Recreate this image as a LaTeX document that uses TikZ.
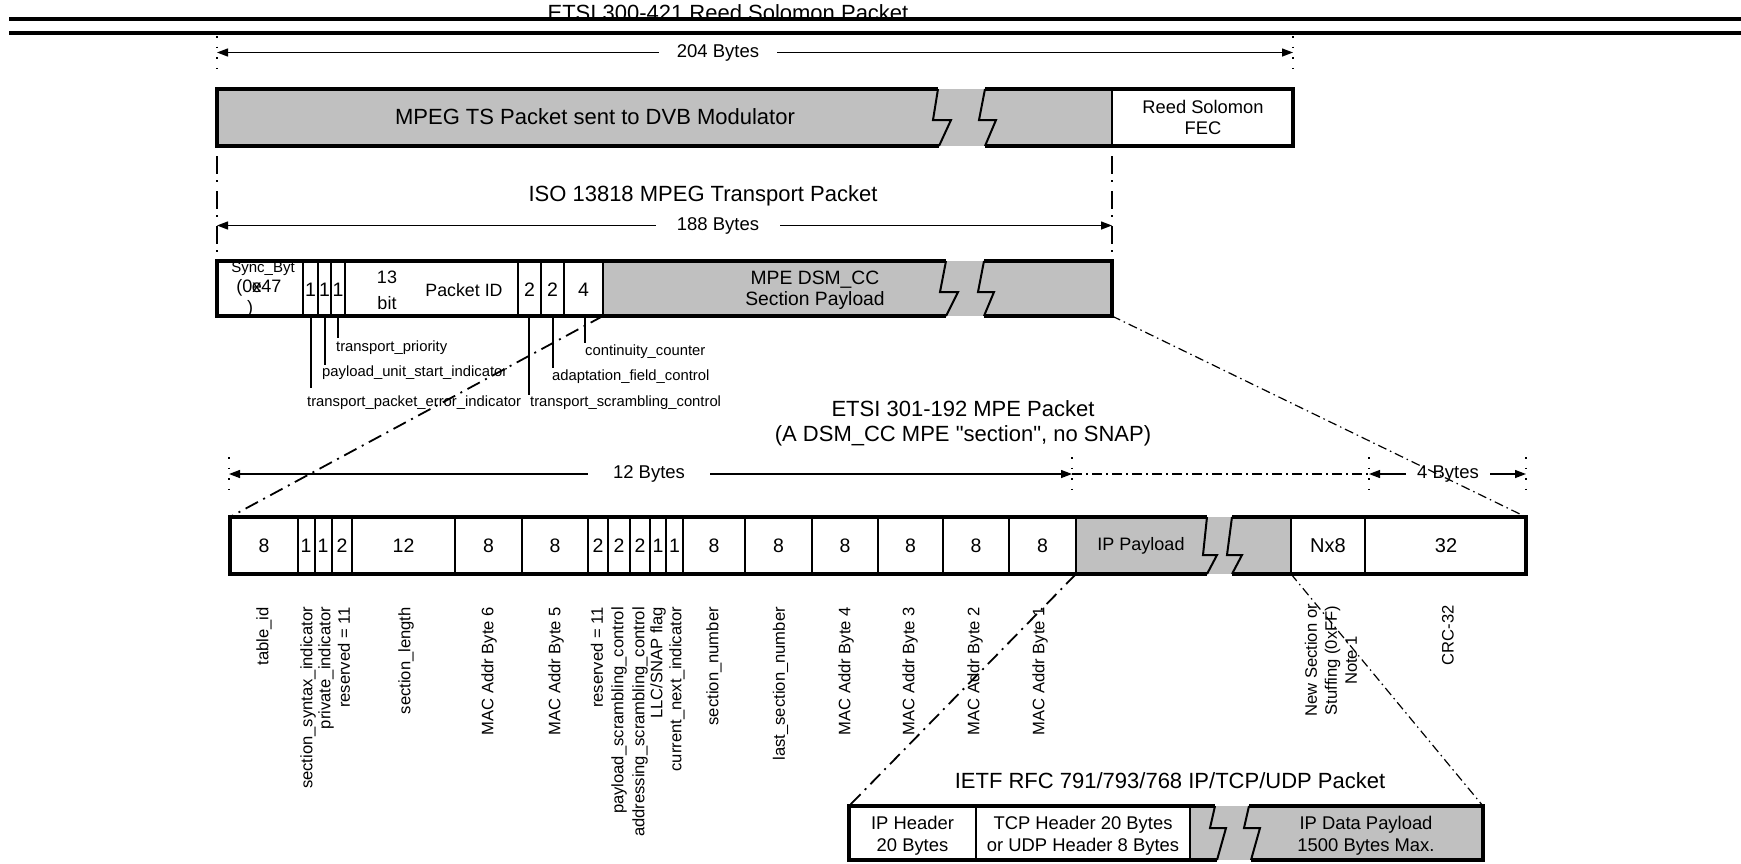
\documentclass[tikz,border=0pt]{standalone}
\usepackage{fontspec}
\setmainfont{Liberation Sans}[Ligatures=TeXOff]
\usetikzlibrary{arrows.meta}
\definecolor{pgray}{HTML}{C0C0C0}
\begin{document}
\begin{tikzpicture}[x=1pt,y=-1pt,
  ttl/.style={font=\fontsize{22}{26}\selectfont, inner sep=0pt},
  dimlbl/.style={font=\fontsize{18.5}{22}\selectfont, fill=white, inner ysep=2pt, inner xsep=#1},
  dimlbl/.default=18pt,
  cellt/.style={font=\fontsize{19.5}{22}\selectfont, inner sep=0pt},
  boxt/.style={font=\fontsize{18.4}{21.7}\selectfont, inner sep=0pt, align=center},
  lead/.style={font=\fontsize{14.8}{17}\selectfont, anchor=west, inner sep=0pt},
  vl/.style={font=\fontsize{16.6}{19}\selectfont, rotate=90, anchor=east, inner sep=0pt},
  thickb/.style={line width=3.2pt},
  thinl/.style={line width=1.3pt},
  zig/.style={line width=2pt},
  dimarr/.style={line width=1.3pt, {Triangle[length=11pt,width=8pt]}-{Triangle[length=11pt,width=8pt]}},
  tick/.style={line width=1.6pt, dash pattern=on 1.6pt off 9pt},
  ddv/.style={line width=2pt, dash pattern=on 18pt off 6pt on 2pt off 9pt},
  ddh/.style={line width=1.3pt, dash pattern=on 10pt off 4pt on 2pt off 4pt},
  ddA/.style={line width=1.8pt, dash pattern=on 14pt off 6pt on 2pt off 6pt},
  ddB/.style={line width=1.2pt, dash pattern=on 9pt off 4pt on 1.5pt off 4pt}
]
\path[use as bounding box, fill=white] (0,0) rectangle (1741,863);

% ---------- top title and double rule
\node[ttl, anchor=base] (t300) at (728,20) {ETSI 300-421 Reed Solomon Packet};
\draw[line width=4.5pt] (9,19) -- (1741,19);
\draw[line width=4.5pt] (9,33) -- (1741,33);

% ---------- 204 Bytes
\draw[tick] (217,36) -- (217,76);
\draw[tick] (1293,36) -- (1293,76);
\coordinate (a204l) at (217,52.5);
\coordinate (a204r) at (1293,52.5);
\draw[dimarr] (a204l) -- (a204r);
\node[dimlbl=18pt] (d204) at (718,52.5) {204 Bytes};

% ---------- Reed Solomon packet box
\fill[pgray] (217,89) rectangle (1112,146);
\draw[thinl] (1112,89) -- (1112,146);
\draw[thickb] (938,89) -- (217,89) -- (217,146) -- (939,146);
\draw[thickb] (985,89) -- (1293,89) -- (1293,146) -- (985,146);
\draw[zig] (938,89) -- (933,120) -- (951,120) -- (939,146);
\draw[zig] (985,89) -- (979,120) -- (996,120) -- (985,146);
\node[ttl] (mpegts) at (595,117) {MPEG TS Packet sent to DVB Modulator};
\node[font=\fontsize{18.3}{21}\selectfont, inner sep=0pt, align=center] (rsfec) at (1203,117.5) {Reed Solomon\\FEC};

% ---------- dash-dot verticals
\draw[ddv] (217,156) -- (217,261);
\draw[ddv] (1112,156) -- (1112,261);

% ---------- ISO title and 188 Bytes
\node[ttl] (iso) at (703,196) {ISO 13818 MPEG Transport Packet};
\coordinate (a188l) at (217,225.5);
\coordinate (a188r) at (1112,225.5);
\draw[dimarr] (a188l) -- (a188r);
\node[dimlbl=21pt] (d188) at (718,225.5) {188 Bytes};

% ---------- TS packet box
\fill[pgray] (603,261) rectangle (1112,316);
\foreach \x in {303,318,331,345,518,541,564,603}
  \draw[thinl] (\x,261) -- (\x,316);
\node[font=\fontsize{15}{17}\selectfont, anchor=base, inner sep=0pt] (sync1) at (263,272) {Sync\_Byt};
\node[font=\fontsize{18}{20}\selectfont, anchor=base, inner sep=0pt] (sync2) at (259,292) {(0x47};
\node[font=\fontsize{18}{20}\selectfont, anchor=base, inner sep=0pt] (sync3) at (257,292) {e};
\node[font=\fontsize{18}{20}\selectfont, anchor=base, inner sep=0pt] (sync4) at (250,313) {)};
\draw[thickb] (946,261) -- (217,261) -- (217,316) -- (946,316);
\draw[thickb] (984,261) -- (1112,261) -- (1112,316) -- (984,316);
\draw[zig] (946,261) -- (940,292) -- (958,292) -- (946,316);
\draw[zig] (984,261) -- (978,292) -- (994,292) -- (984,316);
\node[cellt] (ts1a) at (310.5,290) {1};
\node[cellt] (ts1b) at (324.5,290) {1};
\node[cellt] (ts1c) at (338,290) {1};
\node[font=\fontsize{18}{26}\selectfont, inner sep=0pt, align=center] (ts13) at (387,290) {13\\bit};
\node[font=\fontsize{17.8}{21}\selectfont, inner sep=0pt] (tspid) at (464,290) {Packet ID};
\node[cellt] (ts2a) at (529.5,290) {2};
\node[cellt] (ts2b) at (552.5,290) {2};
\node[cellt] (ts4) at (583.5,290) {4};
\node[font=\fontsize{19.3}{21}\selectfont, inner sep=0pt, align=center] (tspay) at (815,290.5) {MPE DSM\_CC\\Section Payload};

% ---------- leader lines
\draw[thinl] (311,316) -- (311,388);
\draw[thinl] (325,316) -- (325,365);
\draw[thinl] (338,316) -- (338,338);
\draw[thinl] (529,316) -- (529,395);
\draw[thinl] (553,316) -- (553,368);
\draw[thinl] (585,316) -- (585,343);
\node[lead] (ltp) at (336,348) {transport\_priority};
\node[lead] (lpusi) at (322,373) {payload\_unit\_start\_indicator};
\node[lead] (ltpei) at (307,403) {transport\_packet\_error\_indicator};
\node[lead] (lcc) at (585,352) {continuity\_counter};
\node[lead] (lafc) at (552,377) {adaptation\_field\_control};
\node[lead] (ltsc) at (530,403) {transport\_scrambling\_control};

% ---------- ETSI 301-192 title
\node[ttl] (mpet1) at (963,408.6) {ETSI 301-192 MPE Packet};
\node[ttl] (mpet2) at (963,435.5) {(A DSM\_CC MPE "section", no SNAP)};

% ---------- 12 Bytes / 4 Bytes
\foreach \x in {229,1072,1369,1526}
  \draw[tick] (\x,457) -- (\x,490);
\coordinate (a12l) at (229,474);
\coordinate (a12r) at (1072,474);
\coordinate (a4l) at (1369,474);
\coordinate (a4r) at (1526,474);
\draw[ddh] (a12r) -- (a4l);
\draw[dimarr] (a12l) -- (a12r);
\draw[dimarr] (a4l) -- (a4r);
\node[dimlbl=25pt] (d12) at (649,474) {12 Bytes};
\node[dimlbl=11pt] (d4) at (1448,474) {4 Bytes};

% ---------- MPE packet box
\fill[pgray] (1076,517) rectangle (1291,574);
\foreach \x in {298,315,332,352,455,522,588,608,630,650,666,683,745,812,878,943,1009,1076,1291,1365}
  \draw[thinl] (\x,517) -- (\x,574);
\draw[thickb] (1207,517) -- (230,517) -- (230,574) -- (1207,574);
\draw[thickb] (1232,517) -- (1526,517) -- (1526,574) -- (1232,574);
\draw[zig] (1207,517) -- (1203,555) -- (1217,555) -- (1207,574);
\draw[zig] (1232,517) -- (1227,555) -- (1242,555) -- (1232,574);
\foreach \x/\t [count=\i] in {264/8,306/1,323/1,342/2,403.5/12,488.5/8,555/8,598/2,619/2,640/2,658/1,674.5/1,714/8,778.5/8,845/8,910.5/8,976/8,1042.5/8}
  \node[cellt] (mc\i) at (\x,546) {\t};
\node[font=\fontsize{18}{21}\selectfont, inner sep=0pt] (mcip) at (1141,546) {IP Payload};
\node[font=\fontsize{20}{22}\selectfont, inner sep=0pt] (mcnx) at (1328,546) {Nx8};
\node[font=\fontsize{20}{22}\selectfont, inner sep=0pt] (mccrc) at (1446,546) {32};

% ---------- vertical labels
\node[vl] (v1) at (264,607) {table\_id};
\node[vl] (v2) at (308,607) {section\_syntax\_indicator};
\node[vl] (v3) at (326,607) {private\_indicator};
\node[vl] (v4) at (344,607) {reserved = 11};
\node[vl] (v5) at (406,607) {section\_length};
\node[vl] (v6) at (489,607) {MAC Addr Byte 6};
\node[vl] (v7) at (556,607) {MAC Addr Byte 5};
\node[vl] (v8) at (597,607) {reserved = 11};
\node[vl] (v9) at (619,607) {payload\_scrambling\_control};
\node[vl] (v10) at (640,607) {addressing\_scrambling\_control};
\node[vl] (v11) at (658,607) {LLC/SNAP flag};
\node[vl] (v12) at (677,607) {current\_next\_indicator};
\node[vl] (v13) at (714,607) {section\_number};
\node[vl] (v14) at (780.5,607) {last\_section\_number};
\node[vl] (v15) at (846,607) {MAC Addr Byte 4};
\node[vl] (v16) at (910,607) {MAC Addr Byte 3};
\node[vl] (v17) at (975,607) {MAC Addr Byte 2};
\node[vl] (v18) at (1040,607) {MAC Addr Byte 1};
\node[vl, align=center, font=\fontsize{16.6}{20}\selectfont] (v19) at (1331,604) {New Section or\\Stuffing (0xFF)\\Note 1};
\node[vl] (v20) at (1448,605) {CRC-32};

% ---------- IETF packet
\node[ttl] (ietf) at (1170,781) {IETF RFC 791/793/768 IP/TCP/UDP Packet};
\fill[pgray] (1190,806) rectangle (1483,860);
\draw[thinl] (976,806) -- (976,860);
\draw[thinl] (1190,806) -- (1190,860);
\draw[thickb] (1215,806) -- (849,806) -- (849,860) -- (1217,860);
\draw[thickb] (1249,806) -- (1483,806) -- (1483,860) -- (1251,860);
\draw[zig] (1215,806) -- (1210,828) -- (1226,828) -- (1217,860);
\draw[zig] (1249,806) -- (1244,828) -- (1260,828) -- (1251,860);
\node[boxt] (iph) at (912.5,836) {IP Header\\20 Bytes};
\node[boxt] (tcph) at (1083,836) {TCP Header 20 Bytes\\or UDP Header 8 Bytes};
\node[boxt] (ipd) at (1366,836) {IP Data Payload\\1500 Bytes Max.};

% ---------- expansion connectors
\coordinate (tsPayBL) at (603,316);
\coordinate (tsBR) at (1112,316);
\coordinate (mpeTL) at (230,517);
\coordinate (mpeTR) at (1526,517);
\coordinate (ipPayBL) at (1076,574);
\coordinate (nxBL) at (1291,574);
\coordinate (ipTL) at (849,806);
\coordinate (ipTR) at (1483,806);
\draw[ddA] (tsPayBL) -- (mpeTL);
\draw[ddB] (tsBR) -- (mpeTR);
\draw[ddA] (ipPayBL) -- (ipTL);
\draw[ddB] (nxBL) -- (ipTR);
\end{tikzpicture}
\end{document}
